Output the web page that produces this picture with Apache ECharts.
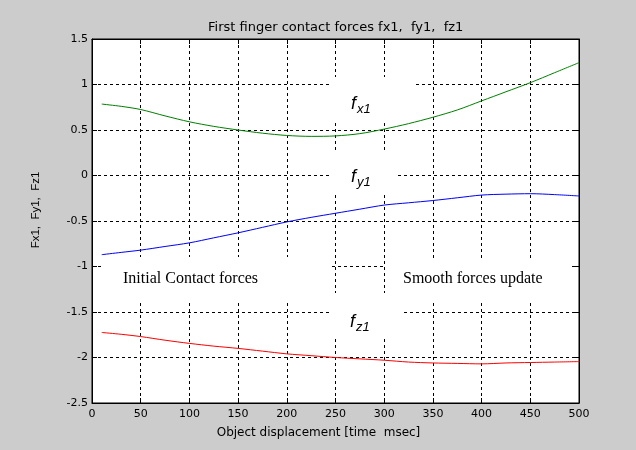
<!DOCTYPE html>
<html>
<head>
<meta charset="utf-8">
<script src="https://cdn.jsdelivr.net/npm/echarts@6/dist/echarts.min.js"></script>
<style>html,body{margin:0;padding:0;background:#cccccc;}#c{width:636px;height:450px;}</style>
</head>
<body>
<div id="c"></div>
<script>
// ---- data ----
var xValues = [10, 30, 50, 75, 100, 125, 150, 175, 200, 225, 250, 275, 300, 325, 350, 375, 400, 425, 450, 475, 500];
var fx1 = [0.785, 0.76, 0.725, 0.655, 0.59, 0.54, 0.50, 0.465, 0.44, 0.43, 0.435, 0.46, 0.51, 0.57, 0.64, 0.72, 0.82, 0.92, 1.02, 1.13, 1.24];
var fy1 = [-0.87, -0.845, -0.82, -0.78, -0.74, -0.685, -0.63, -0.57, -0.51, -0.46, -0.415, -0.37, -0.325, -0.30, -0.275, -0.245, -0.215, -0.205, -0.20, -0.21, -0.225];
var fz1 = [-1.725, -1.745, -1.77, -1.81, -1.845, -1.875, -1.90, -1.93, -1.96, -1.98, -2.0, -2.015, -2.03, -2.05, -2.06, -2.065, -2.07, -2.06, -2.055, -2.05, -2.045];
var titleText = 'First finger contact forces fx1,  fy1,  fz1';
var xAxisName = 'Object displacement [time  msec]';
var yAxisName = 'Fx1,  Fy1,  Fz1';
var annotations = ['Initial Contact forces', 'Smooth forces update'];

function pairs(xs, ys) { return xs.map(function (x, i) { return [x, ys[i]]; }); }

var chart = echarts.init(document.getElementById('c'), null, {renderer: 'canvas'});
var sans = 'Liberation Sans, Arial, sans-serif';
var dj = 'DejaVu Sans, sans-serif';
var serif = 'Liberation Serif, Times New Roman, serif';
var gridDash = {show: true, lineStyle: {color: '#000', type: [3, 3], width: 1}};
var tickIn = {show: true, inside: true, length: 5, lineStyle: {color: '#000'}};
var G = {left: 92, top: 39, width: 487, height: 364};

function fLabel(sub) {
  return '{f|f}{s|' + sub + '}';
}
var fRich = {
  f: {fontFamily: sans, fontStyle: 'italic', fontSize: 18, color: '#000', verticalAlign: 'bottom', lineHeight: 22},
  s: {fontFamily: sans, fontStyle: 'italic', fontSize: 13, color: '#000', verticalAlign: 'bottom', lineHeight: 16, padding: [0, 0, -3, 1]}
};

var option = {
  backgroundColor: '#cccccc',
  animation: false,
  title: {
    text: titleText, left: 203, top: 16,
    textStyle: {fontFamily: dj, fontSize: 13, fontWeight: 'normal', color: '#000'}
  },
  grid: Object.assign({show: true, backgroundColor: '#fff', borderColor: '#000', borderWidth: 1, containLabel: false}, G),
  xAxis: [{
    type: 'value', min: 0, max: 500, interval: 50,
    name: xAxisName, nameLocation: 'middle', nameGap: 24,
    nameTextStyle: {fontFamily: dj, fontSize: 12, color: '#000', padding: [0, 34, 0, 0]},
    axisLine: {show: true, onZero: false, lineStyle: {color: '#000'}},
    axisTick: tickIn,
    axisLabel: {fontFamily: dj, fontSize: 11, color: '#000', margin: 6},
    splitLine: gridDash
  }, {
    type: 'value', min: 0, max: 500, interval: 50, position: 'top',
    axisLine: {show: true, onZero: false, lineStyle: {color: '#000'}},
    axisTick: tickIn, axisLabel: {show: false}, splitLine: {show: false}
  }],
  yAxis: [{
    type: 'value', min: -2.5, max: 1.5, interval: 0.5,
    name: yAxisName, nameLocation: 'middle', nameGap: 50, nameRotate: 90,
    nameTextStyle: {fontFamily: sans, fontSize: 11.5, color: '#000', padding: [0, 0, 0, 22]},
    axisLine: {show: true, onZero: false, lineStyle: {color: '#000'}},
    axisTick: tickIn,
    axisLabel: {fontFamily: dj, fontSize: 11, color: '#000', margin: 4},
    splitLine: gridDash
  }, {
    type: 'value', min: -2.5, max: 1.5, interval: 0.5, position: 'right',
    axisLine: {show: true, onZero: false, lineStyle: {color: '#000'}},
    axisTick: tickIn, axisLabel: {show: false}, splitLine: {show: false}
  }],
  series: [
    {name: 'fx1', type: 'line', data: pairs(xValues, fx1), showSymbol: false, smooth: 0.3, lineStyle: {color: '#008000', width: 1}, z: 5},
    {name: 'fy1', type: 'line', data: pairs(xValues, fy1), showSymbol: false, smooth: 0.3, lineStyle: {color: '#0000ff', width: 1}, z: 5},
    {name: 'fz1', type: 'line', data: pairs(xValues, fz1), showSymbol: false, smooth: 0.3, lineStyle: {color: '#ff0000', width: 1}, z: 5}
  ],
  graphic: {
    elements: [
      {type: 'rect', shape: {x: 330, y: 77, width: 85, height: 43}, style: {fill: '#fff'}, z: 1},
      {type: 'rect', shape: {x: 330, y: 150, width: 67, height: 45}, style: {fill: '#fff'}, z: 1},
      {type: 'rect', shape: {x: 330, y: 293, width: 72, height: 45}, style: {fill: '#fff'}, z: 1},
      {type: 'rect', shape: {x: 103, y: 257, width: 227, height: 43}, style: {fill: '#fff'}, z: 1},
      {type: 'rect', shape: {x: 386, y: 258, width: 186, height: 44}, style: {fill: '#fff'}, z: 1},
      {type: 'text', x: 351, y: 102, z: 10, style: {text: fLabel('x1'), rich: fRich, verticalAlign: 'middle'}},
      {type: 'text', x: 351, y: 175, z: 10, style: {text: fLabel('y1'), rich: fRich, verticalAlign: 'middle'}},
      {type: 'text', x: 350, y: 320, z: 10, style: {text: fLabel('z1'), rich: fRich, verticalAlign: 'middle'}},
      {type: 'text', x: 123, y: 279, z: 10, style: {text: annotations[0], font: '16px ' + serif, fill: '#000', verticalAlign: 'middle'}},
      {type: 'text', x: 403, y: 279, z: 10, style: {text: annotations[1], font: '16px ' + serif, fill: '#000', verticalAlign: 'middle'}}
    ]
  }
};
chart.setOption(option);
</script>
</body>
</html>
